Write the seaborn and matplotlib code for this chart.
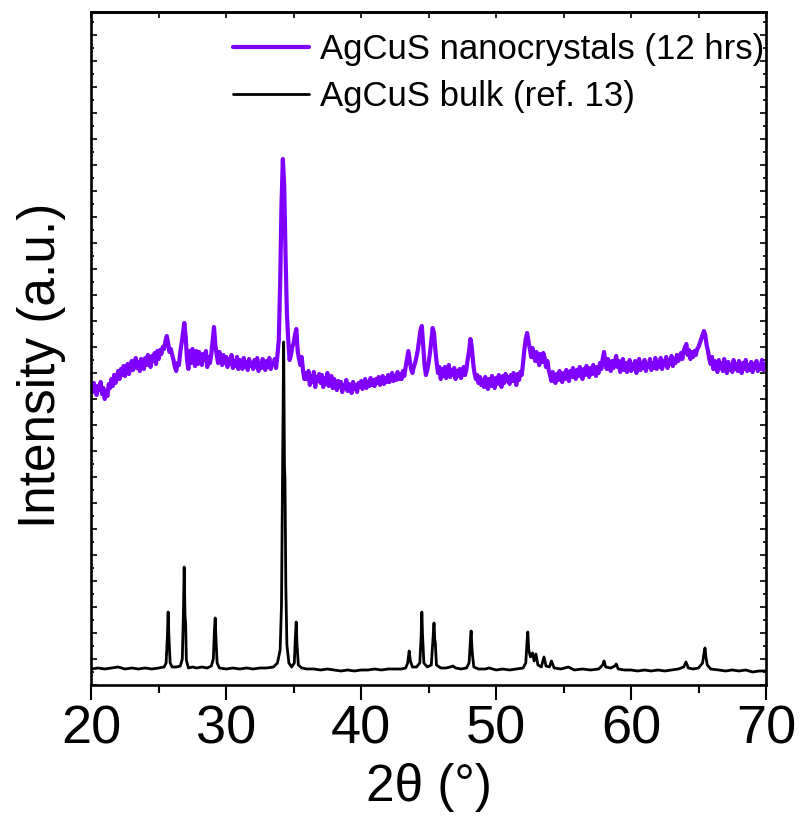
import numpy as np
import pandas as pd
import seaborn as sns
import matplotlib
matplotlib.use("Agg")
import matplotlib.pyplot as plt
from matplotlib.ticker import MultipleLocator

# ---- nanocrystal pattern: 0.1 degree scan step from 20 to 70 degrees ----
nano_2theta = np.round(np.linspace(20.0, 70.0, 501), 1)
nano_intensity = [
    300, 293, 302, 296, 290, 299, 295, 303, 291, 297,   # 20
    286, 294, 289, 301, 297, 306, 299, 310, 302, 307,   # 21
    314, 306, 316, 310, 319, 309, 315, 321, 311, 318,   # 22
    324, 315, 321, 327, 317, 323, 314, 326, 320, 316,   # 23
    327, 320, 330, 322, 318, 329, 324, 332, 321, 334,   # 24
    326, 335, 331, 338, 336, 344, 349, 342, 333, 336,   # 25
    330, 325, 318, 314, 322, 320, 333, 342, 352, 362,   # 26
    348, 325, 316, 334, 322, 336, 326, 319, 334, 321,   # 27
    333, 324, 320, 331, 325, 334, 318, 328, 322, 331,   # 28
    344, 358, 340, 330, 322, 333, 325, 320, 330, 322,   # 29
    328, 318, 326, 321, 330, 317, 324, 319, 328, 316,   # 30
    325, 320, 316, 327, 318, 323, 315, 326, 319, 322,   # 31
    316, 325, 318, 327, 314, 322, 317, 326, 320, 315,   # 32
    324, 318, 327, 316, 322, 320, 326, 317, 330, 345,   # 33
    400, 480, 526, 500, 430, 372, 345, 325, 330, 338,   # 34
    342, 350, 356, 334, 326, 320, 328, 314, 306, 312,   # 35
    306, 314, 300, 309, 303, 313, 298, 308, 304, 311,   # 36
    302, 310, 298, 307, 301, 312, 299, 305, 309, 297,   # 37
    306, 300, 295, 304, 298, 303, 293, 300, 297, 305,   # 38
    294, 301, 297, 292, 303, 296, 300, 293, 302, 298,   # 39
    304, 296, 301, 306, 297, 303, 299, 307, 300, 305,   # 40
    299, 306, 302, 308, 300, 304, 309, 301, 307, 303,   # 41
    310, 303, 307, 312, 304, 309, 305, 313, 306, 311,   # 42
    306, 314, 309, 318, 326, 334, 325, 316, 312, 318,   # 43
    322, 328, 335, 345, 355, 359, 340, 320, 310, 315,   # 44
    322, 332, 345, 357, 352, 335, 322, 312, 318, 306,   # 45
    316, 309, 318, 307, 313, 320, 308, 315, 310, 317,   # 46
    306, 314, 309, 316, 307, 312, 318, 310, 316, 326,   # 47
    334, 346, 338, 322, 312, 306, 310, 302, 308, 300,   # 48
    305, 298, 308, 301, 296, 306, 299, 309, 302, 297,   # 49
    307, 301, 310, 303, 298, 309, 302, 311, 304, 308,   # 50
    301, 310, 304, 312, 306, 300, 311, 305, 313, 310,   # 51
    322, 336, 346, 352, 344, 336, 328, 337, 330, 324,   # 52
    333, 326, 320, 331, 323, 332, 327, 318, 324, 315,   # 53
    310, 304, 313, 306, 302, 311, 305, 314, 308, 303,   # 54
    312, 306, 315, 309, 304, 314, 308, 317, 310, 306,   # 55
    315, 309, 318, 311, 306, 316, 310, 319, 313, 308,   # 56
    317, 311, 320, 313, 309, 318, 312, 322, 316, 326,   # 57
    333, 322, 316, 326, 318, 314, 324, 317, 323, 329,   # 58
    318, 324, 313, 320, 326, 315, 322, 313, 319, 325,   # 59
    314, 321, 316, 324, 312, 320, 326, 315, 322, 317,   # 60
    325, 314, 321, 318, 326, 315, 322, 317, 327, 316,   # 61
    323, 318, 327, 316, 324, 320, 328, 317, 325, 321,   # 62
    329, 319, 326, 322, 330, 324, 328, 332, 326, 334,   # 63
    338, 341, 330, 335, 326, 333, 328, 334, 330, 336,   # 64
    338, 342, 346, 350, 354, 350, 340, 334, 326, 321,   # 65
    328, 316, 324, 319, 313, 325, 317, 322, 314, 326,   # 66
    318, 312, 323, 315, 320, 313, 325, 316, 321, 314,   # 67
    324, 317, 312, 322, 316, 325, 314, 320, 315, 323,   # 68
    313, 321, 317, 324, 314, 320, 316, 325, 315, 321,   # 69
    319,                                                # 70
]

# ---- bulk reference pattern ----
bulk_2theta = [
    20.0, 20.5, 21.0, 21.5, 22.0, 22.5, 23.0, 23.5, 24.0, 24.5, 25.0, 25.4, 25.55, 25.65, 25.7,
    25.76, 25.85, 26.0, 26.3, 26.6, 26.75, 26.83, 26.89, 26.95, 27.0, 27.05, 27.2, 27.5, 27.8,
    28.2, 28.6, 28.9, 29.05, 29.13, 29.19, 29.25, 29.33, 29.5, 30.0, 30.5, 31.0, 31.5, 32.0,
    32.5, 33.0, 33.5, 33.8, 34.0, 34.1, 34.2, 34.26, 34.32, 34.36, 34.42, 34.5, 34.65, 34.85,
    35.05, 35.12, 35.19, 35.25, 35.35, 35.6, 36.0, 36.5, 37.0, 37.5, 38.0, 38.5, 39.0, 39.5,
    40.0, 40.5, 41.0, 41.5, 42.0, 42.5, 43.0, 43.3, 43.45, 43.56, 43.65, 43.8, 44.1, 44.35,
    44.45, 44.5, 44.55, 44.58, 44.65, 44.9, 45.2, 45.32, 45.4, 45.46, 45.5, 45.58, 45.9, 46.3,
    46.6, 46.8, 47.0, 47.4, 47.8, 48.0, 48.1, 48.15, 48.2, 48.25, 48.35, 48.7, 49.2, 49.5,
    50.0, 50.5, 51.0, 51.5, 52.0, 52.2, 52.3, 52.35, 52.42, 52.55, 52.7, 52.82, 52.95, 53.1,
    53.35, 53.55, 53.7, 53.95, 54.1, 54.3, 54.8, 55.35, 55.8, 56.4, 57.0, 57.6, 57.9, 58.0,
    58.12, 58.5, 58.8, 58.9, 59.05, 59.5, 60.0, 60.5, 61.0, 61.5, 62.0, 62.5, 63.0, 63.5,
    63.9, 64.07, 64.25, 64.6, 65.0, 65.3, 65.42, 65.48, 65.55, 65.65, 65.9, 66.5, 67.0, 67.5,
    68.0, 68.5, 69.0, 69.5, 70.0,
]
bulk_intensity = [
    16, 17, 16, 17, 18, 16, 17, 16, 17, 16, 17, 18, 22, 50, 73,
    48, 22, 18, 18, 19, 26, 70, 118, 70, 60, 25, 17, 18, 17,
    18, 17, 19, 26, 55, 67, 45, 22, 17, 16, 17, 16, 17, 16,
    17, 17, 18, 22, 35, 80, 250, 343, 220, 205, 100, 40, 22, 18,
    22, 45, 63, 40, 20, 17, 16, 16, 15, 16, 15, 14, 15, 14,
    15, 15, 16, 15, 16, 16, 16, 17, 22, 34, 24, 18, 18, 22,
    50, 73, 50, 42, 22, 18, 20, 45, 62, 45, 42, 20, 17, 17,
    18, 19, 17, 16, 17, 22, 45, 54, 40, 30, 18, 16, 16, 17,
    15, 16, 15, 16, 17, 22, 45, 53, 35, 28, 32, 24, 31, 20,
    18, 28, 19, 18, 24, 17, 16, 18, 15, 16, 15, 16, 20, 24,
    18, 17, 19, 21, 16, 15, 15, 14, 15, 14, 15, 14, 15, 16,
    18, 23, 17, 16, 17, 22, 33, 37, 28, 20, 16, 15, 14, 15,
    14, 15, 13, 14, 14,
]

series_labels = ["AgCuS nanocrystals (12 hrs)", "AgCuS bulk (ref. 13)"]
series_colors = ["#8000ff", "#000000"]

nano_df = pd.DataFrame({"two_theta": nano_2theta, "intensity": nano_intensity})
bulk_df = pd.DataFrame({"two_theta": bulk_2theta, "intensity": bulk_intensity})

sns.set_theme(style="ticks")
plt.rcParams["font.family"] = ["Liberation Sans", "DejaVu Sans"]
plt.rcParams.update({
    "text.color": "black", "axes.labelcolor": "black",
    "xtick.color": "black", "ytick.color": "black",
    "axes.edgecolor": "black", "axes.linewidth": 1.9,
})

fig = plt.figure(figsize=(8.0, 8.18), dpi=100)
ax = fig.add_axes([0.114, 0.1626, 0.8435, 0.8227])

sns.lineplot(data=bulk_df, x="two_theta", y="intensity", ax=ax, sort=False,
             estimator=None, color=series_colors[1], linewidth=2.0, label=series_labels[1])
sns.lineplot(data=nano_df, x="two_theta", y="intensity", ax=ax, sort=False,
             estimator=None, color=series_colors[0], linewidth=3.0, label=series_labels[0])

ax.set_xlim(20, 70)
ax.set_ylim(0, 673)

for side in ["top", "right", "left", "bottom"]:
    ax.spines[side].set_visible(True)
    ax.spines[side].set_linewidth(1.9)

# bottom axis: labelled outward ticks
ax.xaxis.set_major_locator(MultipleLocator(10))
ax.xaxis.set_minor_locator(MultipleLocator(5))
ax.tick_params(axis="x", which="major", direction="out", length=10.5, width=1.5,
               labelsize=39, pad=3.5)
ax.tick_params(axis="x", which="minor", direction="out", length=6, width=1.5)

# left and right axes: short inward ticks, no labels
ax.yaxis.set_major_locator(MultipleLocator(26))
ax.yaxis.set_minor_locator(MultipleLocator(13))
ax.tick_params(axis="y", which="both", direction="in", left=True, right=True,
               labelleft=False, width=1.2)
ax.tick_params(axis="y", which="major", length=4)
ax.tick_params(axis="y", which="minor", length=2.5)

# top axis: inward ticks every 5 degrees
top = ax.secondary_xaxis("top")
top.xaxis.set_major_locator(MultipleLocator(5))
top.tick_params(axis="x", direction="in", length=4, width=1.2, labeltop=False)
top.spines["top"].set_linewidth(1.9)

ax.set_xlabel("2θ (°)", fontsize=37, labelpad=6)
ax.set_ylabel("Intensity (a.u.)", fontsize=37)
ax.yaxis.set_label_coords(-0.037, 0.475)

handles, labels = ax.get_legend_handles_labels()
order = [labels.index(series_labels[0]), labels.index(series_labels[1])]
ax.legend([handles[i] for i in order], [labels[i] for i in order],
          loc="upper right", bbox_to_anchor=(0.997, 0.969), frameon=False,
          fontsize=25, handlelength=2.2, handletextpad=0.3, labelspacing=0.42,
          borderaxespad=0, borderpad=0)

fig.savefig("out.png", dpi=100)
